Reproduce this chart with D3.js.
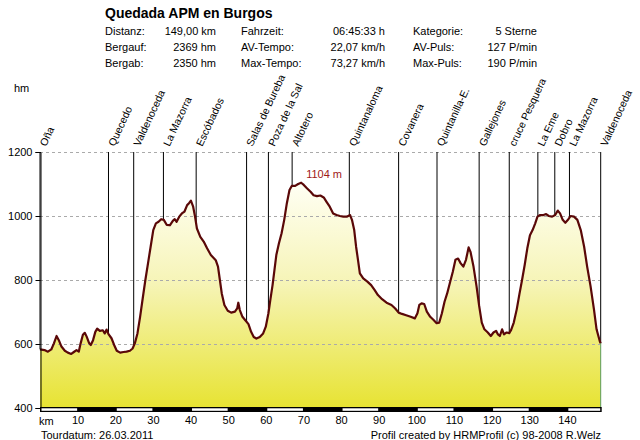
<!DOCTYPE html>
<html><head><meta charset="utf-8">
<script src="https://cdn.jsdelivr.net/npm/d3@7"></script>
<style>
html,body{margin:0;padding:0;background:#fff;}
svg{display:block;font-family:"Liberation Sans",Arial,sans-serif;}
</style></head>
<body>
<svg id="chart" width="640" height="440"></svg>
<script>
// ---- data ----
const title = "Quedada APM en Burgos";
const statLabels = [["Distanz:","Bergauf:","Bergab:"],["Fahrzeit:","AV-Tempo:","Max-Tempo:"],["Kategorie:","AV-Puls:","Max-Puls:"]];
const statValues = [["149,00 km","2369 hm","2350 hm"],["06:45:33 h","22,07 km/h","73,27 km/h"],["5 Sterne","127 P/min","190 P/min"]];

const kmValues = [0,1.2,2.1,3.0,3.7,4.4,5.0,5.7,6.6,7.4,8.3,9.0,9.7,10.3,10.8,11.4,11.9,12.4,13.0,13.5,14.1,14.7,15.2,15.9,16.7,17.2,17.7,18.2,19.0,19.7,20.4,21.3,22.2,23.0,23.9,24.6,25.2,25.9,26.6,27.3,28.0,28.7,29.4,30.1,30.8,31.5,32.2,32.9,33.7,34.5,35.3,35.8,36.3,37.0,37.7,38.4,39.1,39.6,40.1,40.7,41.2,41.7,42.6,43.5,44.4,45.4,46.7,47.3,47.8,48.3,49.0,49.9,50.8,51.8,52.4,52.7,53.1,53.8,54.5,55.4,56.1,56.8,57.5,58.4,59.3,60.0,60.7,61.2,61.8,62.3,62.8,63.5,64.2,64.9,65.6,66.3,66.9,67.8,68.6,69.4,70.1,71.0,71.9,72.7,73.6,74.5,75.4,76.1,77.0,77.9,78.8,79.7,80.6,81.5,82.4,82.9,83.5,84.0,84.5,85.0,85.9,87.0,88.0,88.9,89.8,90.9,92.1,93.4,94.4,95.3,96.2,97.3,98.5,99.6,100.3,100.8,101.4,102.1,102.8,103.7,104.6,105.4,106.1,106.8,107.5,108.2,108.9,109.7,110.4,111.1,111.8,112.5,113.2,113.9,114.4,115.2,116.0,116.7,117.4,118.1,119.0,119.8,120.5,121.2,121.7,122.2,122.8,123.3,124.0,124.7,125.2,125.9,126.7,127.4,128.1,128.8,129.5,130.2,130.9,131.6,132.2,132.9,133.8,134.5,135.2,136.1,136.9,137.6,138.2,138.9,139.6,140.3,141.0,141.9,142.8,143.7,144.6,145.4,146.3,147.2,147.9,148.8,149];
const elevValues = [583,581,576,583,602,625,612,592,579,573,569,575,581,576,602,629,635,623,604,597,612,638,648,641,643,633,645,631,618,597,579,573,575,576,579,586,602,633,685,743,800,852,904,956,977,982,990,988,972,971,985,990,982,998,1008,1014,1034,1040,1048,1029,998,961,935,920,899,878,862,842,800,758,722,704,698,701,711,729,706,685,675,662,638,622,617,622,633,654,696,737,784,831,878,915,946,988,1040,1081,1094,1094,1100,1104,1097,1086,1076,1065,1062,1064,1058,1045,1029,1008,1003,1000,998,998,1003,988,956,904,863,821,805,795,784,769,753,740,729,722,711,698,694,690,685,680,696,722,727,725,701,685,675,665,667,696,732,758,790,826,863,867,852,842,863,902,888,842,781,719,667,646,636,625,636,641,630,625,646,630,636,634,644,667,709,756,800,847,899,940,956,977,998,1003,1003,1006,1000,998,1003,1017,1008,988,979,988,1000,998,988,956,904,842,781,709,646,607,602];

const wpNames = ["Oña","Quecedo","Valdenoceda","La Mazorra","Escóbados","Salas de Bureba","Poza de la Sal","Altotero","Quintanaloma","Covanera","Quintanilla-E.","Gallejones","cruce Pesquera","La Eme","Dobro","La Mazorra","Valdenoceda"];
const wpKm = [0,18.2,24.9,32.8,41.5,54.9,60.7,67.0,82.2,95.3,105.5,116.7,124.7,132.3,136.8,140.7,149];

const yTicks = [400,600,800,1000,1200];
const xTicks = [10,20,30,40,50,60,70,80,90,100,110,120,130,140];
const maxLabel = "1104 m";
const footerLeft = "Tourdatum: 26.03.2011";
const footerRight = "Profil created by HRMProfil (c) 98-2008 R.Welz";

// ---- chart ----
const svg = d3.select("#chart");
const data = kmValues.map((k,i)=>({km:k, e:elevValues[i]}));
const x = d3.scaleLinear().domain([0,149]).range([40,600.7]);
const y = d3.scaleLinear().domain([400,1200]).range([408,152]);

// header
svg.append("text").attr("x",105).attr("y",18).attr("font-size",14).attr("font-weight","bold").text(title);
const colLeft = [105,241,413], colRight = [216,385,537], rowY = [35,51,67];
statLabels.forEach((col,c)=>col.forEach((t,r)=>{
  svg.append("text").attr("x",colLeft[c]).attr("y",rowY[r]).attr("font-size",11).text(t);
  svg.append("text").attr("x",colRight[c]).attr("y",rowY[r]).attr("font-size",11).attr("text-anchor","end").text(statValues[c][r]);
}));
svg.append("text").attr("x",14).attr("y",92).attr("font-size",11).text("hm");

// gradient
const defs = svg.append("defs");
const grad = defs.append("linearGradient").attr("id","fillg").attr("gradientUnits","userSpaceOnUse")
  .attr("x1",0).attr("x2",0).attr("y1",y(1104)).attr("y2",y(400));
grad.append("stop").attr("offset",0).attr("stop-color","#fffff4");
grad.append("stop").attr("offset",0.45).attr("stop-color","#f6f4b6");
grad.append("stop").attr("offset",1).attr("stop-color","#e7e332");

// area
const area = d3.area().x(d=>x(d.km)).y0(y(400)).y1(d=>y(d.e));
svg.append("path").datum(data).attr("d",area).attr("fill","url(#fillg)");

// grid
yTicks.filter(v=>v>400).forEach(v=>{
  svg.append("line").attr("x1",40).attr("x2",600).attr("y1",Math.round(y(v))+0.5).attr("y2",Math.round(y(v))+0.5)
    .attr("stroke","#aaa").attr("stroke-dasharray","3,3");
});

// waypoint lines
const bis = d3.bisector(d=>d.km).left;
function elevAt(k){
  const i = Math.max(1, Math.min(data.length-1, bis(data,k)));
  const a=data[i-1], b=data[i];
  const t=(k-a.km)/(b.km-a.km);
  return a.e + t*(b.e-a.e);
}
wpKm.forEach((k,i)=>{
  svg.append("line").attr("x1",x(k)).attr("x2",x(k)).attr("y1",y(1200)).attr("y2",y(elevAt(k)))
    .attr("stroke","#000").attr("stroke-width",1);
  svg.append("text").attr("font-size",10.5)
    .attr("transform",`translate(${x(k)+6},147) rotate(-65)`).text(wpNames[i]);
});

// profile line
const line = d3.line().x(d=>x(d.km)).y(d=>y(d.e));
svg.append("path").datum(data).attr("d",line).attr("fill","none").attr("stroke","#5a0808").attr("stroke-width",2.2).attr("stroke-linejoin","round");

// end line
svg.append("line").attr("x1",x(149)).attr("x2",x(149)).attr("y1",y(elevAt(149))).attr("y2",y(400)).attr("stroke","#5a9a5a").attr("stroke-width",1);

// peak label
svg.append("text").attr("x",x(69.4)+5).attr("y",y(1104)-5).attr("font-size",11).attr("fill","#a01818").text(maxLabel);

// y axis
const yAxis = d3.axisLeft(y).tickValues(yTicks).tickSize(5).tickPadding(3).tickFormat(d3.format("d"));
const ga = svg.append("g").attr("transform","translate(40.5,0)").call(yAxis);
ga.select(".domain").attr("stroke","#000");
ga.selectAll("text").attr("font-size",11).attr("font-family","Liberation Sans, Arial, sans-serif").attr("fill","#000");

// km bar
svg.append("rect").attr("x",40).attr("y",407).attr("width",x(149)-40+1).attr("height",5).attr("fill","#000");
const segs = d3.range(0,150,20);
segs.forEach(s=>{
  const e = Math.min(s+10,149);
  svg.append("rect").attr("x",x(s)+1.5).attr("y",408.3).attr("width",x(e)-x(s)-2).attr("height",2.5).attr("fill","#fff");
});

// x labels
const xAxis = d3.axisBottom(x).tickValues(xTicks).tickSize(0).tickPadding(0);
const gx = svg.append("g").attr("transform","translate(0,415)").call(xAxis);
gx.select(".domain").remove();
gx.selectAll("text").attr("font-size",11).attr("font-family","Liberation Sans, Arial, sans-serif").attr("fill","#000").attr("dy","0.8em");
svg.append("text").attr("x",39).attr("y",425).attr("font-size",11).text("km");

// footer
svg.append("text").attr("x",41).attr("y",439).attr("font-size",11).text(footerLeft);
svg.append("text").attr("x",601).attr("y",439).attr("font-size",11).attr("text-anchor","end").text(footerRight);
</script>
</body></html>
